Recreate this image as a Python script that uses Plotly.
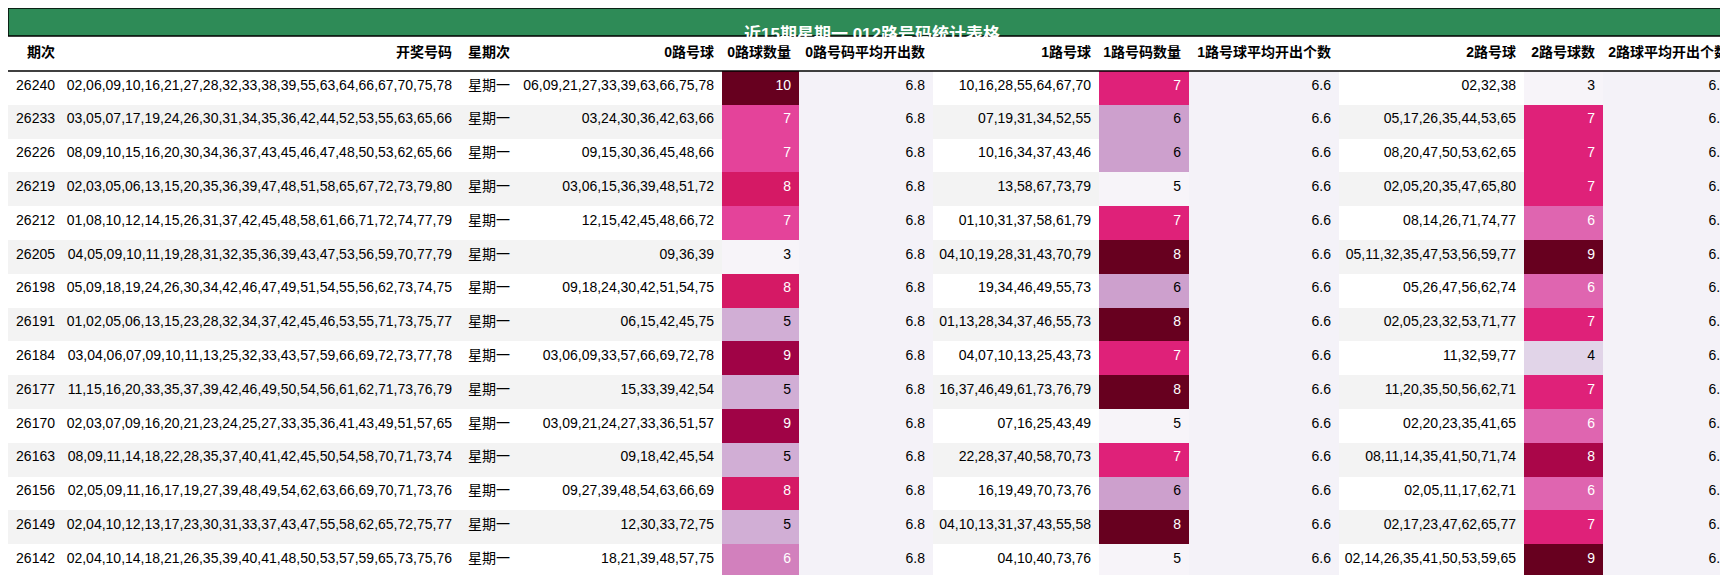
import plotly.graph_objects as go
from plotly.colors import sample_colorscale, sequential

title = "近15期星期一 012路号码统计表格"
headers = ["期次", "开奖号码", "星期次", "0路号球", "0路球数量", "0路号码平均开出数",
           "1路号球", "1路号码数量", "1路号球平均开出个数", "2路号球", "2路号球数", "2路球平均开出个数"]

periods = ["26240", "26233", "26226", "26219", "26212", "26205", "26198", "26191",
           "26184", "26177", "26170", "26163", "26156", "26149", "26142"]
draws = [
    "02,06,09,10,16,21,27,28,32,33,38,39,55,63,64,66,67,70,75,78",
    "03,05,07,17,19,24,26,30,31,34,35,36,42,44,52,53,55,63,65,66",
    "08,09,10,15,16,20,30,34,36,37,43,45,46,47,48,50,53,62,65,66",
    "02,03,05,06,13,15,20,35,36,39,47,48,51,58,65,67,72,73,79,80",
    "01,08,10,12,14,15,26,31,37,42,45,48,58,61,66,71,72,74,77,79",
    "04,05,09,10,11,19,28,31,32,35,36,39,43,47,53,56,59,70,77,79",
    "05,09,18,19,24,26,30,34,42,46,47,49,51,54,55,56,62,73,74,75",
    "01,02,05,06,13,15,23,28,32,34,37,42,45,46,53,55,71,73,75,77",
    "03,04,06,07,09,10,11,13,25,32,33,43,57,59,66,69,72,73,77,78",
    "11,15,16,20,33,35,37,39,42,46,49,50,54,56,61,62,71,73,76,79",
    "02,03,07,09,16,20,21,23,24,25,27,33,35,36,41,43,49,51,57,65",
    "08,09,11,14,18,22,28,35,37,40,41,42,45,50,54,58,70,71,73,74",
    "02,05,09,11,16,17,19,27,39,48,49,54,62,63,66,69,70,71,73,76",
    "02,04,10,12,13,17,23,30,31,33,37,43,47,55,58,62,65,72,75,77",
    "02,04,10,14,18,21,26,35,39,40,41,48,50,53,57,59,65,73,75,76",
]
weekday = ["星期一"] * 15
road0 = ["06,09,21,27,33,39,63,66,75,78", "03,24,30,36,42,63,66", "09,15,30,36,45,48,66",
         "03,06,15,36,39,48,51,72", "12,15,42,45,48,66,72", "09,36,39", "09,18,24,30,42,51,54,75",
         "06,15,42,45,75", "03,06,09,33,57,66,69,72,78", "15,33,39,42,54", "03,09,21,24,27,33,36,51,57",
         "09,18,42,45,54", "09,27,39,48,54,63,66,69", "12,30,33,72,75", "18,21,39,48,57,75"]
count0 = [10, 7, 7, 8, 7, 3, 8, 5, 9, 5, 9, 5, 8, 5, 6]
avg0 = ["6.8"] * 15
road1 = ["10,16,28,55,64,67,70", "07,19,31,34,52,55", "10,16,34,37,43,46", "13,58,67,73,79",
         "01,10,31,37,58,61,79", "04,10,19,28,31,43,70,79", "19,34,46,49,55,73", "01,13,28,34,37,46,55,73",
         "04,07,10,13,25,43,73", "16,37,46,49,61,73,76,79", "07,16,25,43,49", "22,28,37,40,58,70,73",
         "16,19,49,70,73,76", "04,10,13,31,37,43,55,58", "04,10,40,73,76"]
count1 = [7, 6, 6, 5, 7, 8, 6, 8, 7, 8, 5, 7, 6, 8, 5]
avg1 = ["6.6"] * 15
road2 = ["02,32,38", "05,17,26,35,44,53,65", "08,20,47,50,53,62,65", "02,05,20,35,47,65,80",
         "08,14,26,71,74,77", "05,11,32,35,47,53,56,59,77", "05,26,47,56,62,74", "02,05,23,32,53,71,77",
         "11,32,59,77", "11,20,35,50,56,62,71", "02,20,23,35,41,65", "08,11,14,35,41,50,71,74",
         "02,05,11,17,62,71", "02,17,23,47,62,65,77", "02,14,26,35,41,50,53,59,65"]
count2 = [3, 7, 7, 7, 6, 9, 6, 7, 4, 7, 6, 8, 6, 7, 9]
avg2 = ["6.6"] * 15


def grad(vals):
    lo, hi = min(vals), max(vals)
    cols = sample_colorscale(sequential.PuRd, [(v - lo) / (hi - lo) for v in vals])
    txt = []
    for c in cols:
        r, g, b = [int(float(x)) / 255 for x in c[4:-1].split(",")]
        lin = [x / 12.92 if x <= 0.04045 else ((x + 0.055) / 1.055) ** 2.4 for x in (r, g, b)]
        lum = 0.2126 * lin[0] + 0.7152 * lin[1] + 0.0722 * lin[2]
        txt.append("white" if lum < 0.408 else "black")
    return cols, txt


stripe = ["white" if i % 2 == 0 else "#f3f3f3" for i in range(15)]
avgbg = ["#f4f2f8"] * 15
c0, t0 = grad(count0)
c1, t1 = grad(count1)
c2, t2 = grad(count2)
black = ["black"] * 15

fills = [stripe, stripe, stripe, stripe, c0, avgbg, stripe, c1, avgbg, stripe, c2, avgbg]
fcols = [black, black, black, black, t0, black, black, t1, black, black, t2, black]

fig = go.Figure(go.Table(
    columnwidth=[55, 397, 58, 204, 77, 134, 166, 90, 150, 185, 79, 133],
    header=dict(values=["<b>%s</b>" % h for h in headers], fill_color="white",
                align="right", height=35, line=dict(width=0),
                font=dict(family="Liberation Sans, Noto Sans CJK SC", size=14, color="black")),
    cells=dict(values=[periods, draws, weekday, road0, count0, avg0, road1, count1, avg1,
                       road2, count2, avg2],
               fill_color=fills, align="right", height=33.8, line=dict(width=0),
               font=dict(family="Liberation Sans, Noto Sans CJK SC", size=14, color=fcols)),
    domain=dict(x=[0, 1], y=[0, 1 - 28 / 575]),
))
fig.add_shape(type="rect", xref="paper", yref="paper", x0=0, x1=1, y0=1 - 28 / 575, y1=1,
              fillcolor="#2e8b57", line=dict(color="black", width=1.5))
fig.add_shape(type="line", xref="paper", yref="paper", x0=0, x1=1,
              y0=1 - 63 / 575, y1=1 - 63 / 575, line=dict(color="black", width=1.5))
fig.add_annotation(text="<b>%s</b>" % title, xref="paper", yref="paper", x=0.5, y=1 - 14 / 575,
                   showarrow=False, font=dict(family="Liberation Sans, Noto Sans CJK SC", size=17, color="white"))
fig.update_layout(width=1728, height=575, margin=dict(l=0, r=0, t=0, b=0), paper_bgcolor="white")
fig.write_html("out.html")
